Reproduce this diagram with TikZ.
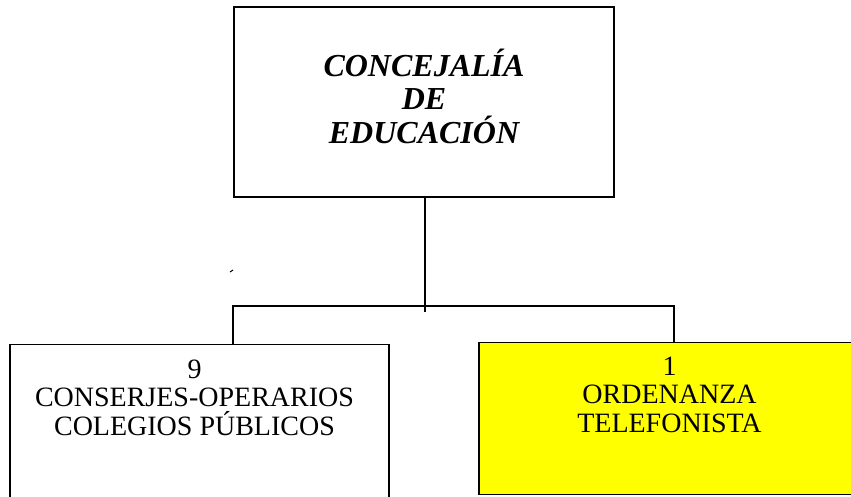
\documentclass[tikz,border=0pt]{standalone}
\usepackage{fontspec}
\setmainfont{Liberation Serif}
\usepackage{xcolor}
\definecolor{amarillo}{RGB}{255,255,0}
\usetikzlibrary{positioning,calc}

\begin{document}
\begin{tikzpicture}[x=1pt,y=-1pt,line width=1.3pt]
            \tikzset{caja/.style={draw,line width=1.3pt,inner sep=0pt},
                     rotulo/.style={align=center,inner sep=0pt,font=\fontsize{28}{28.5}\selectfont}}
            \useasboundingbox (0,0) rectangle (851,496);
            % cajas
            \node[caja,minimum width=380pt,minimum height=190pt] (concejalia) at (424,102) {};
            \node[align=center,inner sep=0pt,yshift=6pt,
                  font=\fontsize{32}{33.5}\selectfont\bfseries\itshape] (concejaliaT) at (concejalia.center)
                  {CONCEJALÍA\\DE\\EDUCACIÓN};
            \node[caja,minimum width=379pt,minimum height=180pt,anchor=north] (conserjes) at (199.5,344) {};
            \node[rotulo,below=15pt of conserjes.north,xshift=-5pt] (conserjesT)
                  {9\\CONSERJES-OPERARIOS\\COLEGIOS PÚBLICOS};
            \node[caja,fill=amarillo,minimum width=381pt,minimum height=152pt,anchor=north] (ordenanza) at (669.5,342) {};
            \node[rotulo,below=14pt of ordenanza.north] (ordenanzaT)
                  {1\\ORDENANZA\\TELEFONISTA};
            % lineas
            \coordinate (rama) at (425,306);
            \coordinate (izq) at (233,306);
            \coordinate (der) at (674,306);
            \draw (rama |- concejalia.south) -- ($(rama)+(0,6)$);
            \draw (izq |- conserjes.north) -- (izq) -- (der) -- (der |- ordenanza.north);
            \draw[line width=1pt] (230,272) -- (233,270);
\end{tikzpicture}
\end{document}
